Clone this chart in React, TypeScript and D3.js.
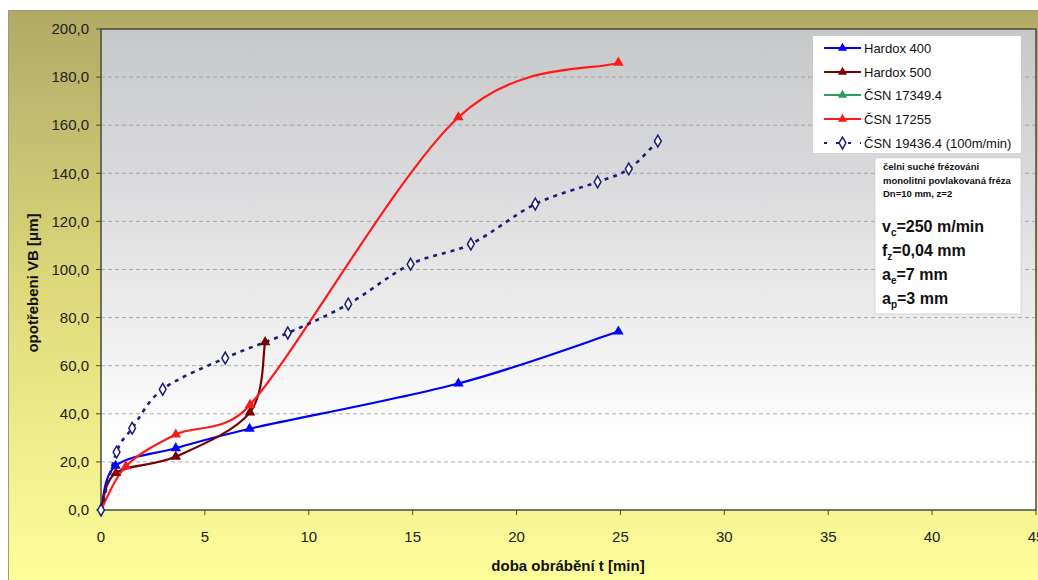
import React from "react";
import * as d3 from "d3";

type P = [number, number];

const hardox400: P[] = [[0, 0], [0.7, 18.4], [3.6, 25.7], [7.15, 33.8], [17.2, 52.6], [24.9, 74.2]];
const hardox500: P[] = [[0, 0], [0.72, 15.4], [3.6, 22.2], [7.17, 40.6], [7.9, 69.8]];
const csn173494: P[] = [];
const csn17255: P[] = [[0, 0], [1.2, 18.2], [3.6, 31.4], [7.17, 43.7], [17.2, 163.3], [24.9, 186]];
const csn194364: P[] = [[0, 0], [0.75, 24.1], [1.5, 34], [2.97, 50.2], [5.98, 63.2], [8.99, 73.6], [11.9, 85.6], [14.9, 102.2], [17.8, 110.6], [20.9, 127.2], [23.9, 136.4], [25.4, 141.8], [26.8, 153.4]];

const xTicks = [0, 5, 10, 15, 20, 25, 30, 35, 40, 45];
const yTicks = [0, 20, 40, 60, 80, 100, 120, 140, 160, 180, 200];

const seriesNames = ["Hardox 400", "Hardox 500", "ČSN 17349.4", "ČSN 17255", "ČSN 19436.4 (100m/min)"];
const seriesColors = ["#0000ff", "#7a0000", "#2e9a5c", "#ff1a1a", "#1c1c7a"];
const seriesData = [hardox400, hardox500, csn173494, csn17255, csn194364];

const FONT = "'Liberation Sans', Arial, sans-serif";
const NARROW = "'Liberation Sans Narrow', 'Liberation Sans', Arial, sans-serif";

// Excel-like smoothed line: Catmull-Rom Bezier with control arms clamped to half the segment
function smoothPath(pts: P[]): string {
  const p = d3.path();
  if (!pts.length) return "";
  p.moveTo(pts[0][0], pts[0][1]);
  const dist = (a: P, b: P) => Math.hypot(b[0] - a[0], b[1] - a[1]);
  for (let i = 0; i < pts.length - 1; i++) {
    const p0 = pts[Math.max(0, i - 1)];
    const p1 = pts[i];
    const p2 = pts[i + 1];
    const p3 = pts[Math.min(pts.length - 1, i + 2)];
    const d12 = dist(p1, p2), d02 = dist(p0, p2), d13 = dist(p1, p3);
    const f1 = d02 / 6 < d12 / 2 ? 1 / 6 : d12 / (2 * d02);
    const f2 = d13 / 6 < d12 / 2 ? 1 / 6 : d12 / (2 * d13);
    const c1x = p1[0] + (p2[0] - p0[0]) * f1;
    const c1y = p1[1] + (p2[1] - p0[1]) * f1;
    const c2x = p2[0] - (p3[0] - p1[0]) * f2;
    const c2y = p2[1] - (p3[1] - p1[1]) * f2;
    p.bezierCurveTo(c1x, c1y, c2x, c2y, p2[0], p2[1]);
  }
  return p.toString();
}

export default function App() {
  const L = 101, R = 1036, T = 29, B = 510;
  const x = d3.scaleLinear().domain([0, 45]).range([L, R]);
  const y = d3.scaleLinear().domain([0, 200]).range([B, T]);
  const toPx = (data: P[]) => data.map((d) => [x(d[0]), y(d[1])] as P);
  const tri = d3.symbol().type(d3.symbolTriangle).size(48)() as string;
  const diamond = d3.symbol().type(d3.symbolDiamond).size(40)() as string;
  const triSmall = d3.symbol().type(d3.symbolTriangle).size(36)() as string;
  const fmt = (v: number) => v.toFixed(1).replace(".", ",");

  const legendY = [48, 72, 95, 119, 143];

  return (
    <svg
      width={1038}
      height={580}
      style={{ position: "absolute", left: 0, top: 0, background: "#fff" }}
      fontFamily={FONT}
    >
      <defs>
        <linearGradient id="outerG" x1="0" y1="0" x2="0" y2="1">
          <stop offset="0" stopColor="#b0aa66" />
          <stop offset="0.5" stopColor="#dfdb7c" />
          <stop offset="1" stopColor="#ffff9c" />
        </linearGradient>
        <linearGradient id="plotG" x1="0" y1="0" x2="0" y2="1">
          <stop offset="0" stopColor="#c6c7c9" />
          <stop offset="0.55" stopColor="#e9e9ea" />
          <stop offset="0.85" stopColor="#ffffff" />
          <stop offset="1" stopColor="#ffffff" />
        </linearGradient>
      </defs>
      <rect x={8.5} y={10.5} width={1040} height={580} fill="url(#outerG)" stroke="#9a9a8a" strokeWidth={1} />
      <rect x={L} y={T} width={R - L} height={B - T} fill="url(#plotG)" />
      {yTicks.slice(1, -1).map((t) => (
        <line key={t} x1={L} x2={R} y1={y(t)} y2={y(t)} stroke="#9a9a9a" strokeWidth={1} strokeDasharray="4,3" opacity={0.8} />
      ))}
      <rect x={L} y={T} width={R - L} height={B - T} fill="none" stroke="#4a4a3a" strokeWidth={1.5} />
      {yTicks.map((t) => (
        <g key={t}>
          <line x1={L - 5} x2={L} y1={y(t)} y2={y(t)} stroke="#4a4a3a" />
          <text x={L - 12} y={y(t)} dy="0.35em" textAnchor="end" fontSize={15} fill="#222">
            {fmt(t)}
          </text>
        </g>
      ))}
      {xTicks.map((t) => (
        <g key={t}>
          <line x1={x(t)} x2={x(t)} y1={B} y2={B + 5} stroke="#4a4a3a" />
          <text x={x(t)} y={537} dy="0.35em" textAnchor="middle" fontSize={15} fill="#222">
            {t}
          </text>
        </g>
      ))}
      <text x={568} y={571} textAnchor="middle" fontSize={15} fontWeight="bold" fontFamily={NARROW} fill="#111">
        doba obrábění t [min]
      </text>
      <text
        transform={`translate(38,${283}) rotate(-90)`}
        textAnchor="middle"
        fontSize={15}
        fontWeight="bold"
        fill="#111"
      >
        opotřebeni VB [μm]
      </text>

      {seriesData.map((data, i) =>
        data.length ? (
          <path
            key={i}
            d={smoothPath(toPx(data))}
            fill="none"
            stroke={seriesColors[i]}
            strokeWidth={i === 4 ? 2.6 : 2.2}
            strokeDasharray={i === 4 ? "4,5" : undefined}
          />
        ) : null
      )}
      {seriesData.map((data, i) =>
        data.map((d, j) =>
          i === 4 ? (
            <path key={`${i}-${j}`} d={diamond} transform={`translate(${x(d[0])},${y(d[1])})`} fill="#fff" stroke={seriesColors[i]} strokeWidth={1.5} />
          ) : j === 0 ? null : (
            <path key={`${i}-${j}`} d={tri} transform={`translate(${x(d[0])},${y(d[1])})`} fill={seriesColors[i]} />
          )
        )
      )}

      <rect x={813} y={36} width={208} height={117} fill="#fff" />
      {seriesNames.map((n, i) => (
        <g key={n}>
          <line
            x1={824}
            x2={861}
            y1={legendY[i]}
            y2={legendY[i]}
            stroke={seriesColors[i]}
            strokeWidth={2.2}
            strokeDasharray={i === 4 ? "3,9" : undefined}
          />
          {i === 4 ? (
            <path d={diamond} transform={`translate(842.5,${legendY[i]})`} fill="#fff" stroke={seriesColors[i]} strokeWidth={1.5} />
          ) : (
            <path d={triSmall} transform={`translate(842.5,${legendY[i]})`} fill={seriesColors[i]} />
          )}
          <text x={864} y={legendY[i]} dy="0.35em" fontSize={13} fill="#111">
            {n}
          </text>
        </g>
      ))}

      <rect x={875} y={158} width={146} height={156} fill="#fff" stroke="#bbb" strokeWidth={0.5} />
      <g fontSize={9.5} fontWeight="bold" fill="#111">
        <text x={883} y={170}>čelni suché frézováni</text>
        <text x={883} y={184}>monolitni povlakovaná fréza</text>
        <text x={883} y={197}>Dn=10 mm, z=2</text>
      </g>
      <g fontSize={16} fontWeight="bold" fill="#111">
        <text x={882} y={232}>
          v<tspan fontSize={10} dy={4}>c</tspan>
          <tspan dy={-4}>=250 m/min</tspan>
        </text>
        <text x={882} y={256}>
          f<tspan fontSize={10} dy={4}>z</tspan>
          <tspan dy={-4}>=0,04 mm</tspan>
        </text>
        <text x={882} y={280}>
          a<tspan fontSize={10} dy={4}>e</tspan>
          <tspan dy={-4}>=7 mm</tspan>
        </text>
        <text x={882} y={304}>
          a<tspan fontSize={10} dy={4}>p</tspan>
          <tspan dy={-4}>=3 mm</tspan>
        </text>
      </g>
    </svg>
  );
}
